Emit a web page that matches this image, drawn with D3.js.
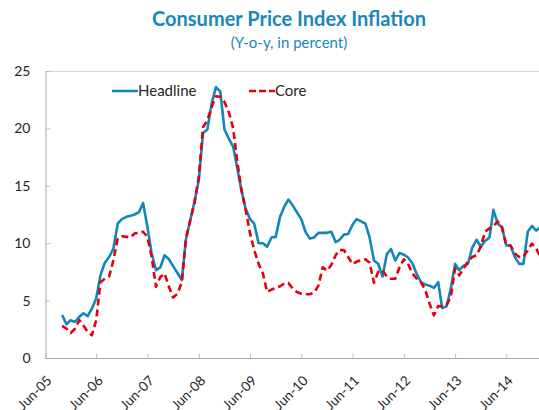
<!DOCTYPE html>
<html>
<head>
<meta charset="utf-8">
<script src="https://cdn.jsdelivr.net/npm/d3@7"></script>
<style>
  body { margin: 0; background: #fff; }
  text { font-family: Lato, "Open Sans", sans-serif; }
</style>
</head>
<body>
<div id="chart"></div>
<script>
// chart data, monthly from Oct-05
var firstMonth = "Oct-05";
var xTickLabels = ["Jun-05", "Jun-06", "Jun-07", "Jun-08", "Jun-09", "Jun-10", "Jun-11", "Jun-12", "Jun-13", "Jun-14"];
var yTicks = [0, 5, 10, 15, 20, 25];
var seriesNames = ["Headline", "Core"];

var headline = [3.75, 2.94, 3.29, 3.14, 3.6, 3.9, 3.64, 4.3, 5.2, 7.2, 8.3, 8.8, 9.5, 11.7, 12.1, 12.3, 12.4, 12.5, 12.7, 13.5,
  11.4, 9.1, 7.65, 7.9, 8.95, 8.6, 8.0, 7.4, 6.8, 10.3, 12.0, 13.6, 15.5, 19.6, 19.9, 22.2, 23.6, 23.2, 19.9, 19.1,
  18.4, 16.6, 14.6, 13.0, 12.1, 11.7, 10.0, 10.0, 9.7, 10.5, 10.55, 12.3, 13.2, 13.8, 13.3, 12.7, 12.1, 11.0, 10.4, 10.5,
  10.9, 10.9, 10.9, 11.0, 10.1, 10.3, 10.75, 10.8, 11.6, 12.1, 11.9, 11.7, 10.5, 8.5, 8.2, 7.1, 9.05, 9.5, 8.5, 9.15,
  9.0, 8.75, 8.25, 7.3, 6.6, 6.4, 6.3, 6.1, 6.6, 4.35, 4.5, 6.0, 8.2, 7.65, 8.05, 8.2, 9.6, 10.3, 9.7, 10.2,
  10.5, 12.9, 11.7, 11.4, 9.8, 9.8, 8.8, 8.2, 8.2, 11.0, 11.5, 11.1, 11.4];

var core = [2.8, 2.56, 2.18, 2.56, 3.29, 2.85, 2.27, 1.98, 3.29, 6.6, 6.9, 7.1, 8.5, 10.4, 10.6, 10.55, 10.5, 10.85, 10.9, 11.0,
  10.55, 8.8, 6.2, 7.06, 7.36, 6.2, 5.27, 5.6, 6.6, 10.4, 12.0, 13.5, 15.8, 20.1, 20.7, 21.9, 22.8, 22.75, 22.3, 21.4,
  20.0, 17.2, 14.6, 12.9, 10.85, 9.4, 8.2, 7.36, 5.75, 5.96, 6.1, 6.25, 6.5, 6.54, 6.05, 5.75, 5.6, 5.55, 5.55, 5.7,
  6.3, 7.9, 7.6, 8.1, 8.95, 9.4, 9.4, 8.8, 8.17, 8.4, 8.5, 8.6, 8.3, 6.55, 7.5, 7.65, 7.1, 6.9, 6.9, 7.9,
  8.6, 8.2, 7.36, 6.9, 6.6, 5.9, 4.74, 3.72, 4.53, 4.5, 4.6, 5.3, 7.8, 7.2, 7.8, 8.4, 8.8, 8.95, 9.7, 11.0,
  11.3, 11.5, 11.9, 11.4, 9.8, 9.8, 9.1, 8.8, 8.8, 9.4, 9.97, 9.5, 8.8];

var width = 539, height = 410;
var plot = {left: 45, top: 71, bottom: 358};
var blue = "#1387b7", red = "#e3000f", titleColor = "#1a87b9";

var parse = d3.timeParse("%b-%y");
var start = parse(firstMonth);
var dates = headline.map(function (d, i) { return d3.timeMonth.offset(start, i); });

var svg = d3.select("#chart")
  .append("svg")
  .attr("width", width)
  .attr("height", height);

var x = d3.scaleTime()
  .domain([parse(xTickLabels[0]), parse(xTickLabels[xTickLabels.length - 1])])
  .range([plot.left, 506.3]);

var y = d3.scaleLinear()
  .domain([0, 25])
  .range([plot.bottom, plot.top]);

// title
svg.append("text")
  .attr("x", 289)
  .attr("y", 26)
  .attr("text-anchor", "middle")
  .style("font-size", "20px")
  .style("font-weight", "bold")
  .style("fill", titleColor)
  .text("Consumer Price Index Inflation");

svg.append("text")
  .attr("x", 289)
  .attr("y", 48)
  .attr("text-anchor", "middle")
  .style("font-size", "15px")
  .style("fill", titleColor)
  .text("(Y-o-y, in percent)");

// top border of plot area
svg.append("line")
  .attr("x1", plot.left).attr("x2", width)
  .attr("y1", plot.top + 0.5).attr("y2", plot.top + 0.5)
  .style("stroke", "#d9d9d9")
  .style("stroke-width", 1);

// y axis
var yAxis = d3.axisLeft(y)
  .tickValues(yTicks)
  .tickSizeInner(-5)
  .tickSizeOuter(0)
  .tickPadding(15);

var gy = svg.append("g")
  .attr("transform", "translate(" + (plot.left + 0.5) + ",0)")
  .call(yAxis);
gy.select(".domain").style("stroke", "#a6a6a6");
gy.selectAll(".tick line").style("stroke", "#bfbfbf");
gy.selectAll(".tick text")
  .style("font-size", "14px")
  .style("font-family", "Lato, 'Open Sans', sans-serif")
  .style("fill", "#262626");

// x axis
var xAxis = d3.axisBottom(x)
  .tickValues(xTickLabels.map(parse))
  .tickFormat(d3.timeFormat("%b-%y"))
  .tickSizeInner(-5)
  .tickSizeOuter(0);

var gx = svg.append("g")
  .attr("transform", "translate(0," + (plot.bottom + 0.5) + ")")
  .call(xAxis);
gx.select(".domain")
  .attr("d", "M" + plot.left + ",0H" + width)
  .style("stroke", "#a6a6a6");
gx.selectAll(".tick line").style("stroke", "#bfbfbf");
gx.selectAll(".tick text")
  .attr("text-anchor", "end")
  .attr("y", 0).attr("dy", 0)
  .attr("transform", "translate(7,23) rotate(-45)")
  .style("font-size", "13.5px")
  .style("font-family", "Lato, 'Open Sans', sans-serif")
  .style("fill", "#262626");

// lines
var line = function (values) {
  return d3.line()
    .x(function (d, i) { return x(dates[i]); })
    .y(function (d) { return y(d); })(values);
};

svg.append("path")
  .attr("d", line(headline))
  .style("fill", "none")
  .style("stroke", blue)
  .style("stroke-width", 2.6)
  .style("stroke-linejoin", "round");

svg.append("path")
  .attr("d", line(core))
  .style("fill", "none")
  .style("stroke", red)
  .style("stroke-width", 2.6)
  .style("stroke-dasharray", "7,4")
  .style("stroke-linejoin", "round");

// legend
var legend = [
  {name: seriesNames[0], x: 112, color: blue, dash: null},
  {name: seriesNames[1], x: 249, color: red, dash: "7,3"}
];
legend.forEach(function (l) {
  svg.append("line")
    .attr("x1", l.x).attr("x2", l.x + 26)
    .attr("y1", 91).attr("y2", 91)
    .style("stroke", l.color)
    .style("stroke-width", 2.6)
    .style("stroke-dasharray", l.dash);
  svg.append("text")
    .attr("x", l.x + 26)
    .attr("y", 96)
    .style("font-size", "15px")
    .style("fill", "#262626")
    .text(l.name);
});
</script>
</body>
</html>
